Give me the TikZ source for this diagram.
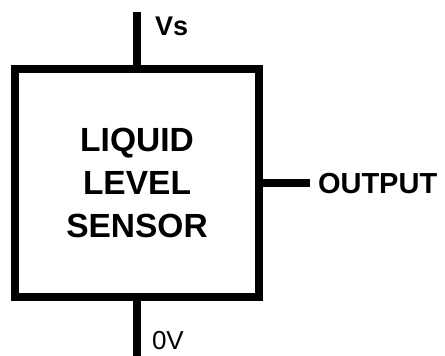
\documentclass[tikz,border=0pt]{standalone}
\usepackage{fontspec}
\setmainfont{Liberation Sans}
\begin{document}
\begin{tikzpicture}[x=1pt, y=-1pt, line width=8pt, every node/.style={font=\bfseries}]
\useasboundingbox (0,0) rectangle (445,356);
\node[draw,minimum width=244.5pt,minimum height=228pt,align=center,font=\fontsize{33.5}{43}\selectfont\bfseries] (sensor) at (137,183) {LIQUID\\LEVEL\\SENSOR};
\coordinate (vs) at (137,12);
\coordinate (gnd) at (137,356);
\coordinate (out) at (310,183);
\draw (sensor.north) -- (vs);
\draw (sensor.south) -- (gnd);
\draw (sensor.east) -- (out);
\node[anchor=base west,inner sep=0pt,font=\fontsize{27}{30}\selectfont\bfseries] (vslabel) at (151,35) {Vs};
\node[anchor=base west,inner sep=0pt,font=\fontsize{26}{30}\selectfont] (gndlabel) at (148,349) {0V};
\node[anchor=base west,inner sep=0pt,font=\fontsize{29}{30}\selectfont\bfseries] (outlabel) at (314,193) {OUTPUT};
\end{tikzpicture}
\end{document}
